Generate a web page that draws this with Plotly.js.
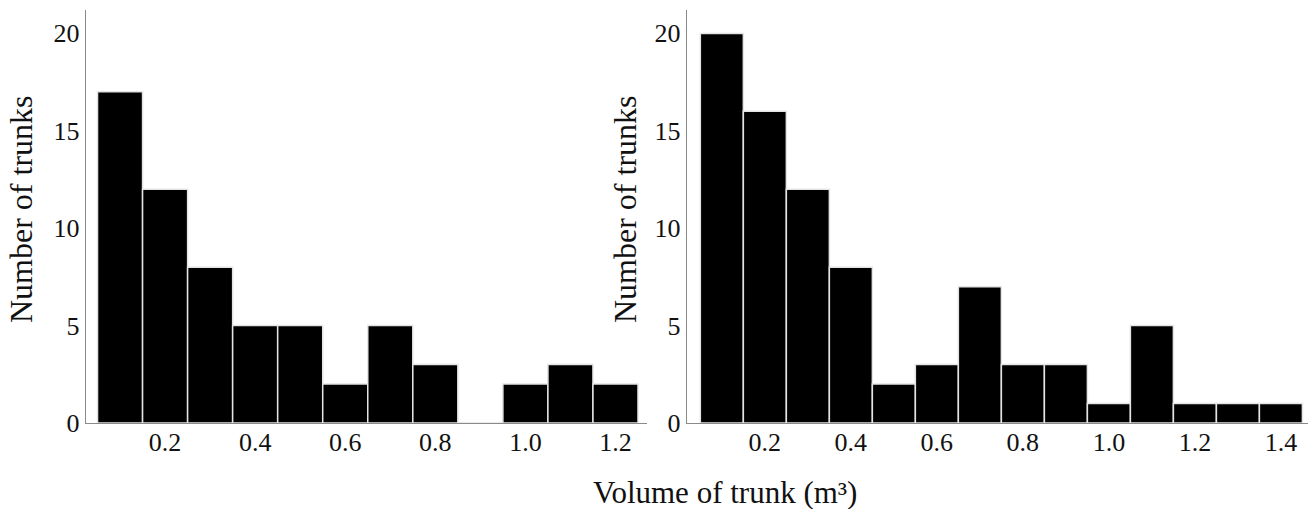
<!DOCTYPE html>
<html>
<head>
<meta charset="utf-8">
<script src="https://cdn.plot.ly/plotly-3.0.1.min.js"></script>
<style>html,body{margin:0;padding:0;background:#fff;}#chart{width:1312px;height:509px;}</style>
</head>
<body>
<div id="chart"></div>
<script>
// Data (bin centres in m³, counts of trunks)
const leftBins = [0.1, 0.2, 0.3, 0.4, 0.5, 0.6, 0.7, 0.8, 0.9, 1.0, 1.1, 1.2];
const leftCounts = [17, 12, 8, 5, 5, 2, 5, 3, 0, 2, 3, 2];
const rightBins = [0.1, 0.2, 0.3, 0.4, 0.5, 0.6, 0.7, 0.8, 0.9, 1.0, 1.1, 1.2, 1.3, 1.4];
const rightCounts = [20, 16, 12, 8, 2, 3, 7, 3, 3, 1, 5, 1, 1, 1];
const leftTicks = [0.2, 0.4, 0.6, 0.8, 1.0, 1.2];
const rightTicks = [0.2, 0.4, 0.6, 0.8, 1.0, 1.2, 1.4];
const yTicks = [0, 5, 10, 15, 20];
const xTitle = 'Volume of trunk (m³)';
const yTitle = 'Number of trunks';

const W = 1312, H = 509;
const FONT = 'Liberation Serif, Times New Roman, serif';
const barStyle = {color: '#000000', line: {color: '#e4e4e4', width: 1.5}};

const traces = [
  {type: 'bar', x: leftBins, y: leftCounts, width: 0.1, marker: barStyle, xaxis: 'x', yaxis: 'y', hoverinfo: 'x+y'},
  {type: 'bar', x: rightBins, y: rightCounts, width: 0.1, marker: barStyle, xaxis: 'x2', yaxis: 'y2', hoverinfo: 'x+y'}
];

const yDom = [(H - 423) / H, (H - 10) / H];
function xAxis(dom, range, ticks) {
  return {
    domain: dom, range: range, tickvals: ticks, ticktext: ticks.map(v => v.toFixed(1)),
    showgrid: false, zeroline: false, showline: true, linecolor: '#8a8a8a', linewidth: 1.2,
    ticks: '', ticklen: 0, ticklabelstandoff: -4,
    tickfont: {family: FONT, size: 26, color: '#111'}, fixedrange: true
  };
}
function yAxis(anchor) {
  return {
    domain: yDom, range: [0, 21.2], tickvals: yTicks, anchor: anchor,
    showgrid: false, zeroline: false, showline: true, linecolor: '#8a8a8a', linewidth: 1.2,
    ticks: '', ticklen: 0, tickfont: {family: FONT, size: 26, color: '#111'}, fixedrange: true
  };
}

const layout = {
  width: W, height: H,
  margin: {l: 0, r: 0, t: 0, b: 0},
  paper_bgcolor: '#fff', plot_bgcolor: '#fff',
  showlegend: false, bargap: 0,
  font: {family: FONT, color: '#111'},
  xaxis: xAxis([86 / W, 647 / W], [0.0244, 1.27], leftTicks),
  yaxis: yAxis('x'),
  xaxis2: Object.assign(xAxis([687 / W, 1308 / W], [0.019, 1.463], rightTicks), {anchor: 'y2'}),
  yaxis2: yAxis('x2'),
  annotations: [
    {text: xTitle, xref: 'paper', yref: 'paper', x: 725 / W, y: (H - 492) / H, showarrow: false,
     xanchor: 'center', yanchor: 'middle', font: {family: FONT, size: 31, color: '#111'}},
    {text: yTitle, xref: 'paper', yref: 'paper', x: 21 / W, y: (H - 209) / H, showarrow: false, textangle: -90,
     xanchor: 'center', yanchor: 'middle', font: {family: FONT, size: 32, color: '#111'}},
    {text: yTitle, xref: 'paper', yref: 'paper', x: 625 / W, y: (H - 209) / H, showarrow: false, textangle: -90,
     xanchor: 'center', yanchor: 'middle', font: {family: FONT, size: 32, color: '#111'}}
  ]
};

Plotly.newPlot('chart', traces, layout, {displayModeBar: false, staticPlot: true});
</script>
</body>
</html>
